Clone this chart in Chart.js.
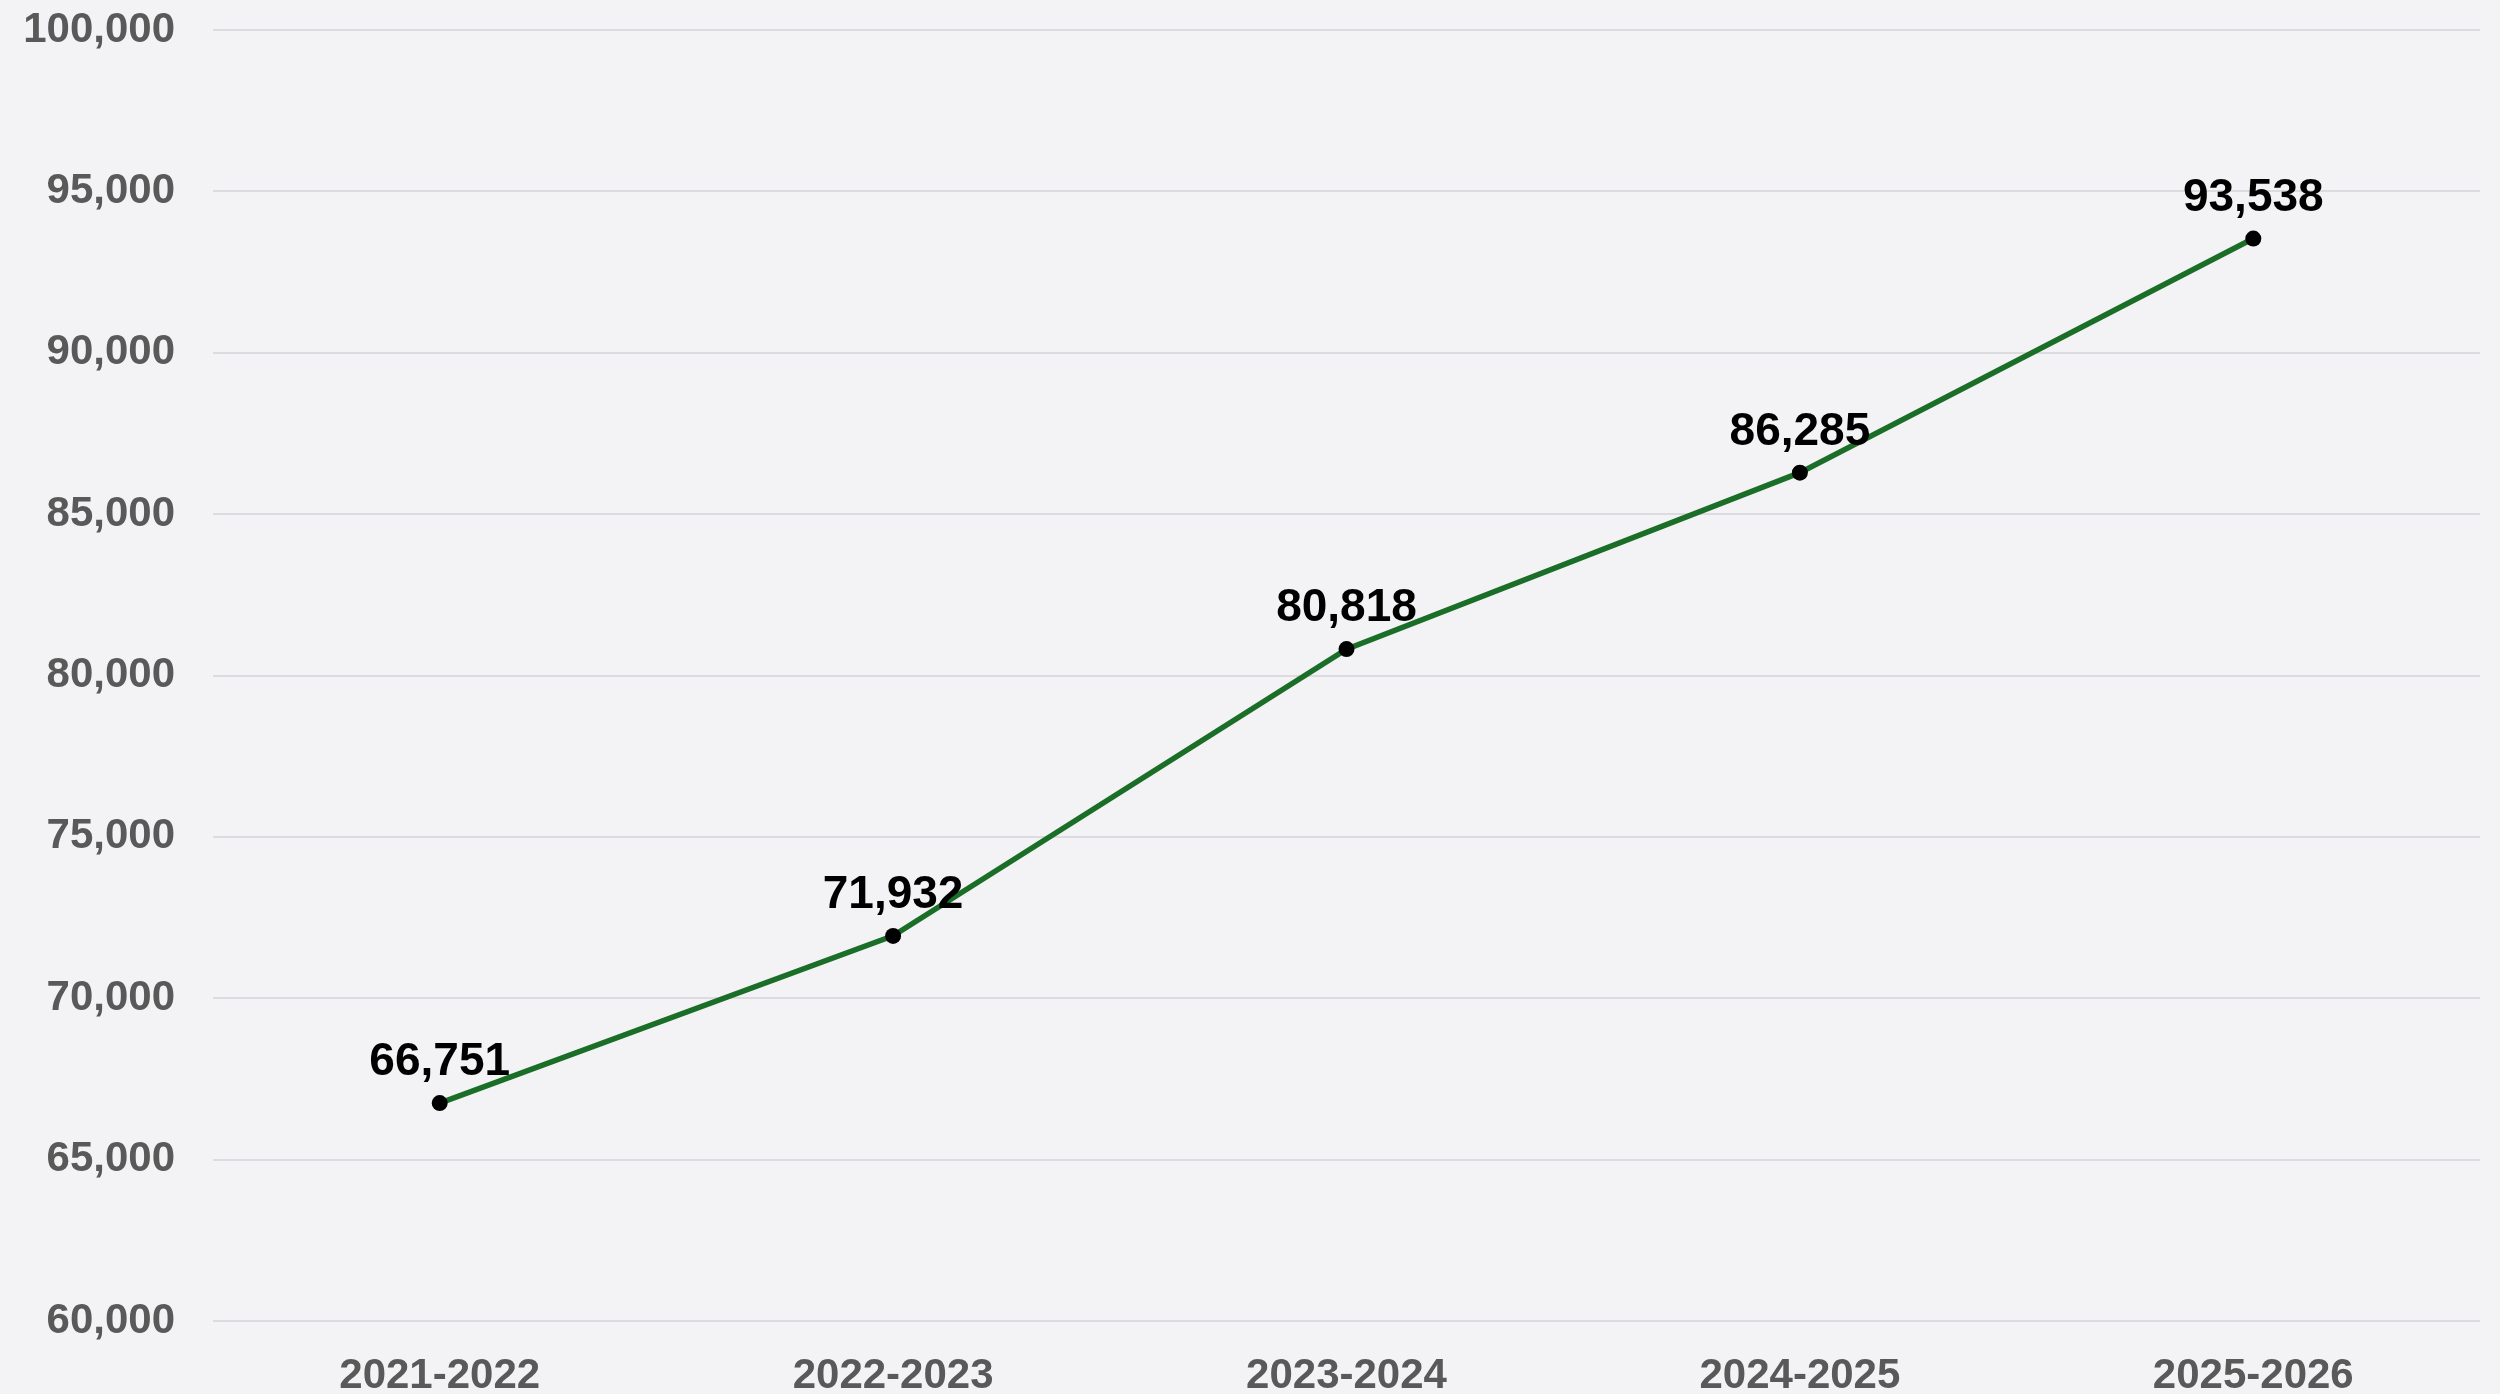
<!DOCTYPE html>
<html>
<head>
<meta charset="utf-8">
<script src="https://cdn.jsdelivr.net/npm/chart.js@4.4.1/dist/chart.umd.min.js"></script>
<style>
  html, body { margin: 0; padding: 0; background: #f3f3f5; }
  #wrap { width: 2500px; height: 1394px; }
</style>
</head>
<body>
<div id="wrap"><canvas id="trendChart"></canvas></div>
<script>
// chart data
const years = ["2021-2022", "2022-2023", "2023-2024", "2024-2025", "2025-2026"];
const totals = [66751, 71932, 80818, 86285, 93538];
const yTicks = [60000, 65000, 70000, 75000, 80000, 85000, 90000, 95000, 100000];

const FONT = "'Liberation Sans', Arial, sans-serif";

// value labels above each point
const pointLabels = {
  id: "pointLabels",
  afterDatasetsDraw(chart) {
    const ctx = chart.ctx;
    const meta = chart.getDatasetMeta(0);
    ctx.save();
    ctx.font = "bold 46px " + FONT;
    ctx.fillStyle = "#000";
    ctx.textAlign = "center";
    ctx.textBaseline = "alphabetic";
    meta.data.forEach((pt, i) => {
      ctx.fillText(totals[i].toLocaleString("en-US"), pt.x, pt.y - 28);
    });
    ctx.restore();
  }
};

new Chart(document.getElementById("trendChart"), {
  type: "line",
  data: {
    labels: years,
    datasets: [{
      data: totals,
      borderColor: "#1b6e27",
      borderWidth: 5.5,
      pointRadius: 8,
      pointBackgroundColor: "#000",
      pointBorderWidth: 0,
      tension: 0
    }]
  },
  options: {
    responsive: true,
    maintainAspectRatio: false,
    animation: false,
    layout: { padding: { top: 30, right: 20, left: 0, bottom: 0 } },
    plugins: {
      legend: { display: false },
      tooltip: { enabled: false }
    },
    scales: {
      x: {
        offset: true,
        grid: { display: false },
        border: { display: false },
        ticks: {
          color: "#595959",
          padding: 22,
          maxRotation: 0,
          font: { family: FONT, size: 42, weight: "bold" }
        },
        afterFit: s => {
          s.height = 73;
          s.paddingLeft = 0;
          s.paddingRight = 0;
        }
      },
      y: {
        min: 60000,
        max: 100000,
        afterBuildTicks: s => { s.ticks = yTicks.map(v => ({ value: v })); },
        grid: { color: "#dcdce0", lineWidth: 2, drawTicks: false },
        border: { display: false },
        ticks: {
          color: "#595959",
          padding: 38,
          font: { family: FONT, size: 42, weight: "bold" },
          callback: v => v.toLocaleString("en-US")
        },
        afterFit: s => {
          s.width = 213;
          s.paddingTop = 0;
          s.paddingBottom = 0;
        }
      }
    }
  },
  plugins: [pointLabels]
});
</script>
</body>
</html>
